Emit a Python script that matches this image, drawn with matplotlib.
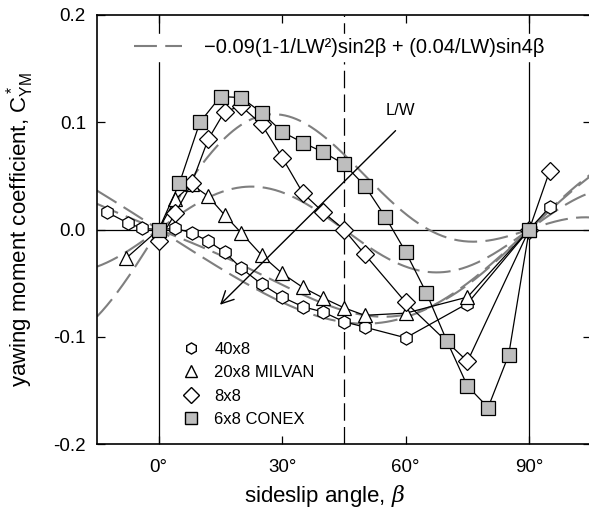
import matplotlib.pyplot as plt
import numpy as np
from matplotlib.lines import Line2D

plt.rcParams['font.family'] = ['Liberation Sans', 'DejaVu Sans']
plt.rcParams['mathtext.fontset'] = 'custom'
plt.rcParams['mathtext.rm'] = 'Liberation Sans'
plt.rcParams['mathtext.it'] = 'DejaVu Serif:italic'

# 40x8
beta_40x8 = [-12.5, -7.5, -4, 0, 4, 8, 12, 16, 20, 25, 30, 35, 40, 45, 50, 60, 75, 90, 95]
cym_40x8 = [0.016, 0.006, 0.001, 0.0, 0.001, -0.003, -0.011, -0.021, -0.036, -0.051,
            -0.063, -0.072, -0.077, -0.086, -0.091, -0.101, -0.069, 0.0, 0.021]

# 20x8 MILVAN
beta_milvan = [-8, 0, 4, 8, 12, 16, 20, 25, 30, 35, 40, 45, 50, 60, 75, 90]
cym_milvan = [-0.027, 0.0, 0.028, 0.042, 0.031, 0.0135, -0.003, -0.024, -0.041,
              -0.054, -0.064, -0.073, -0.080, -0.078, -0.063, 0.0]

# 8x8
beta_8x8 = [0, 4, 8, 12, 16, 20, 25, 30, 35, 40, 45, 50, 60, 75, 90, 95]
cym_8x8 = [-0.011, 0.015, 0.043, 0.084, 0.110, 0.115, 0.098, 0.067, 0.034, 0.016,
           0.0, -0.023, -0.068, -0.123, 0.0, 0.055]

# 6x8 CONEX
beta_conex = [0, 5, 10, 15, 20, 25, 30, 35, 40, 45, 50, 55, 60, 65, 70, 75, 80, 85, 90]
cym_conex = [0.0, 0.043, 0.100, 0.124, 0.123, 0.109, 0.091, 0.081, 0.072, 0.061,
             0.041, 0.012, -0.021, -0.059, -0.104, -0.146, -0.166, -0.117, 0.0]

# L/W ratios for the model curves
lw_ratios = [40 / 8, 20 / 8, 8 / 8, 6 / 8]

formula = '\u22120.09(1-1/LW\u00b2)sin2\u03b2 + (0.04/LW)sin4\u03b2'

fig = plt.figure(figsize=(5.89, 5.16), dpi=100)
ax = fig.add_axes([97 / 589, 72 / 516, 494 / 589, 429 / 516])

b = np.linspace(-15, 105, 400)
br = np.radians(b)
for r in lw_ratios:
    c = -0.09 * (1 - 1 / r**2) * np.sin(2 * br) + (0.04 / r) * np.sin(4 * br)
    ax.plot(b, c, color='#7f7f7f', lw=1.5, dashes=(11, 4), zorder=2)

ax.axvline(0, color='black', lw=0.9, zorder=1)
ax.axvline(90, color='black', lw=0.9, zorder=1)
ax.axhline(0, color='black', lw=0.9, zorder=1)
ax.axvline(45, color='black', lw=0.9, dashes=(14, 5), zorder=1)

mk = dict(color='black', lw=0.9, markeredgecolor='black',
          markeredgewidth=0.9, zorder=3)
ax.plot(beta_40x8, cym_40x8, marker='h', markersize=9.5, markerfacecolor='white', **mk)
ax.plot(beta_milvan, cym_milvan, marker='^', markersize=10, markerfacecolor='white', **mk)
ax.plot(beta_8x8, cym_8x8, marker='D', markersize=9.5, markerfacecolor='white', **mk)
ax.plot(beta_conex, cym_conex, marker='s', markersize=9.5, markerfacecolor='#bebebe', **mk)

ax.annotate('', xy=(14.4, -0.072), xytext=(58, 0.094),
            arrowprops=dict(arrowstyle='->', lw=1, color='black', mutation_scale=22))
ax.text(58.6, 0.111, 'L/W', fontsize=12, ha='center', va='center')

ax.set_xlim(-15, 105)
ax.set_ylim(-0.2, 0.2)
ax.set_xticks([0, 30, 60, 90], ['0\u00b0', '30\u00b0', '60\u00b0', '90\u00b0'])
ax.set_yticks([-0.2, -0.1, 0.0, 0.1, 0.2], ['-0.2', '-0.1', '0.0', '0.1', '0.2'])
ax.tick_params(direction='in', length=6, width=0.9, labelsize=13.5,
               top=True, right=True, pad=8)
ax.tick_params(axis='x', pad=11)
for s in ax.spines.values():
    s.set_linewidth(1.2)

ax.set_xlabel(r'sideslip angle, $\beta$', fontsize=16)
ax.xaxis.set_label_coords(0.46, -0.09)
ax.set_ylabel(r'yawing moment coefficient, C$^*_{\mathrm{YM}}$', fontsize=16)
ax.yaxis.set_label_coords(-0.123, 0.5)

h_formula = Line2D([], [], color='#7f7f7f', lw=1.5, dashes=(11, 4))
leg1 = ax.legend([h_formula], [formula], loc='upper center', bbox_to_anchor=(0.49, 0.98),
                 frameon=True, fontsize=14.5, handlelength=2.4, handletextpad=1.1,
                 framealpha=1, edgecolor='white', fancybox=False, borderpad=0.2)
leg1.set_zorder(5)
ax.add_artist(leg1)

handles = [
    Line2D([], [], ls='none', marker='h', markersize=8, markerfacecolor='white', markeredgecolor='black'),
    Line2D([], [], ls='none', marker='^', markersize=8.5, markerfacecolor='white', markeredgecolor='black'),
    Line2D([], [], ls='none', marker='D', markersize=8, markerfacecolor='white', markeredgecolor='black'),
    Line2D([], [], ls='none', marker='s', markersize=8, markerfacecolor='#bebebe', markeredgecolor='black'),
]
ax.legend(handles, ['40x8', '20x8 MILVAN', '8x8', '6x8 CONEX'], loc='lower left',
          bbox_to_anchor=(0.14, 0.005), frameon=False, fontsize=12,
          handlelength=1.2, labelspacing=0.5)

plt.savefig('out.png', dpi=100)
